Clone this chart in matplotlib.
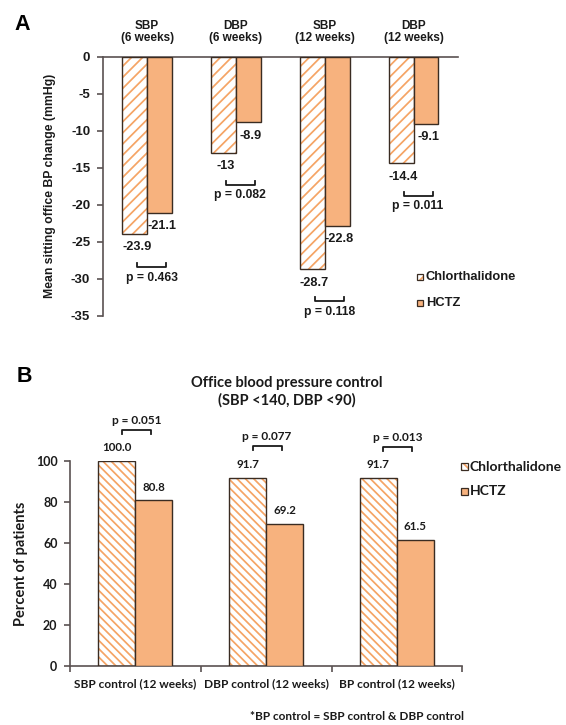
import matplotlib
matplotlib.use("Agg")
import matplotlib.pyplot as plt
import numpy as np
from matplotlib.patches import Rectangle
from matplotlib.lines import Line2D

# ---------------- data ----------------
series_names = ["Chlorthalidone", "HCTZ"]

a_categories = ["SBP\n(6 weeks)", "DBP\n(6 weeks)", "SBP\n(12 weeks)", "DBP\n(12 weeks)"]
a_chlorthalidone = [-23.9, -13, -28.7, -14.4]
a_hctz = [-21.1, -8.9, -22.8, -9.1]
a_pvalues = ["p = 0.463", "p = 0.082", "p = 0.118", "p = 0.011"]
a_yticks = [0, -5, -10, -15, -20, -25, -30, -35]
a_ylabel = "Mean sitting office BP change (mmHg)"

b_categories = ["SBP control (12 weeks)", "DBP control (12 weeks)", "BP control (12 weeks)"]
b_chlorthalidone = [100.0, 91.7, 91.7]
b_hctz = [80.8, 69.2, 61.5]
b_pvalues = ["p = 0.051", "p = 0.077", "p = 0.013"]
b_yticks = [0, 20, 40, 60, 80, 100]
b_ylabel = "Percent of patients"
b_title = "Office blood pressure control\n(SBP <140, DBP <90)"
b_footnote = "*BP control = SBP control & DBP control"

# layout-only values (bracket heights in data units)
a_bracket_y = [-28.4, -17.3, -33.0, -18.8]
b_bracket_y = [114.9, 107.3, 106.8]

# ---------------- style ----------------
W, H = 566, 725
DPI = 100
plt.rcParams["axes.unicode_minus"] = False
plt.rcParams["hatch.linewidth"] = 1.25
FA = ["Liberation Sans", "DejaVu Sans"]
FB = ["Lato", "DejaVu Sans"]
TXT = "#1a1a1a"
EDGE = "#3a2c22"
SPINE = "#5a5252"
ORANGE = "#F7B27E"
HATCH = "#F5A465"

fig = plt.figure(figsize=(W / DPI, H / DPI), dpi=DPI)
fig.patch.set_facecolor("white")


def fx(x):
    return x / W


def fy(y):
    return 1 - y / H


def hatched_bars(ax, x, vals, width, hatch):
    ax.bar(x, vals, width, color="white", edgecolor=HATCH, hatch=hatch,
           linewidth=0, zorder=2)
    ax.bar(x, vals, width, color="none", edgecolor=EDGE, linewidth=1.0, zorder=3)


def solid_bars(ax, x, vals, width):
    ax.bar(x, vals, width, color=ORANGE, edgecolor=EDGE, linewidth=1.0, zorder=3)


# ================= Panel A =================
A_L, A_R = 102.7, 458
axA = fig.add_axes([fx(A_L), fy(316), fx(A_R) - fx(A_L), fy(56.5) - fy(316)])
xa = np.arange(len(a_categories))
bw = 0.28
hatched_bars(axA, xa - bw / 2, a_chlorthalidone, bw, "///")
solid_bars(axA, xa + bw / 2, a_hctz, bw)
axA.set_xlim(-0.5, len(a_categories) - 0.5)
axA.set_ylim(-35, 0)
for s in ["right", "bottom"]:
    axA.spines[s].set_visible(False)
for s in ["left", "top"]:
    axA.spines[s].set_color(SPINE)
    axA.spines[s].set_linewidth(1.2)
axA.set_yticks(a_yticks)
axA.set_yticklabels([str(t) for t in a_yticks], fontfamily=FA, fontweight="bold",
                    fontsize=9.5, color=TXT)
axA.tick_params(axis="y", direction="out", length=4, width=1.2, color=SPINE, pad=5)
axA.xaxis.tick_top()
axA.set_xticks(xa)
axA.set_xticklabels(a_categories, fontfamily=FA, fontweight="bold", fontsize=8.5,
                    color=TXT, linespacing=1.05)
axA.tick_params(axis="x", length=0, pad=9)
axA.set_ylabel(a_ylabel, fontfamily=FA, fontweight="bold", fontsize=8.8, color=TXT)
axA.yaxis.set_label_coords((56 - A_L) / (A_R - A_L), 0.5)

for i in range(len(a_categories)):
    for xv, v in ((xa[i] - bw / 2, a_chlorthalidone[i]), (xa[i] + bw / 2, a_hctz[i])):
        axA.annotate(f"{v:g}", (xv, v), xytext=(2, -13.5), textcoords="offset pixels",
                     ha="center", va="center", fontfamily=FA, fontweight="bold",
                     fontsize=9.2, color=TXT, annotation_clip=False)
    x0, x1 = xa[i] - 0.113, xa[i] + 0.214
    yb = a_bracket_y[i]
    tk = 0.55
    axA.add_line(Line2D([x0, x0, x1, x1], [yb + tk, yb, yb, yb + tk], color=TXT,
                        lw=1.3, clip_on=False))
    axA.annotate(a_pvalues[i], ((x0 + x1) / 2, yb), xytext=(0, -10.5),
                 textcoords="offset pixels", ha="center", va="center", fontfamily=FA,
                 fontweight="bold", fontsize=8.7, color=TXT, annotation_clip=False)

# legend A
for k, (name, yc) in enumerate(zip(series_names, [277, 302.5])):
    if k == 0:
        r = Rectangle((fx(417), fy(yc + 3)), fx(6), 6 / H, transform=fig.transFigure,
                      facecolor="white", edgecolor=HATCH, hatch="///", linewidth=0)
        fig.add_artist(r)
    r = Rectangle((fx(417), fy(yc + 3)), fx(6), 6 / H, transform=fig.transFigure,
                  facecolor=("none" if k == 0 else ORANGE), edgecolor=EDGE, linewidth=0.9)
    fig.add_artist(r)
    fig.text(fx(426), fy(yc), name, ha="left", va="center", fontfamily=FA,
             fontweight="bold", fontsize=9.3, color=TXT)

fig.text(fx(14), fy(30), "A", ha="left", va="baseline", fontfamily=FA,
         fontweight="bold", fontsize=15.5, color="black")

# ================= Panel B =================
B_L, B_R = 70, 462.3
axB = fig.add_axes([fx(B_L), fy(666), fx(B_R) - fx(B_L), fy(460.7) - fy(666)])
xb = np.arange(len(b_categories))
bwb = 0.283
hatched_bars(axB, xb - bwb / 2, b_chlorthalidone, bwb, "\\\\\\\\")
solid_bars(axB, xb + bwb / 2, b_hctz, bwb)
axB.set_xlim(-0.5, len(b_categories) - 0.5)
axB.set_ylim(0, 100)
for s in ["right", "top"]:
    axB.spines[s].set_visible(False)
for s in ["left", "bottom"]:
    axB.spines[s].set_color(SPINE)
    axB.spines[s].set_linewidth(1.2)
axB.set_yticks(b_yticks)
axB.set_yticklabels([str(t) for t in b_yticks], fontfamily=FB, fontweight="bold",
                    fontsize=9, color=TXT)
axB.tick_params(axis="y", direction="out", length=4, width=1.2, color=SPINE, pad=5)
axB.set_xticks(xb)
axB.set_xticklabels(b_categories, fontfamily=FB, fontweight="bold", fontsize=8.6,
                    color=TXT)
axB.set_xticks(np.arange(-0.5, len(b_categories)), minor=True)
axB.tick_params(axis="x", which="major", length=0, pad=9)
axB.tick_params(axis="x", which="minor", direction="out", length=4, width=1.2,
                color=SPINE)
axB.set_ylabel(b_ylabel, fontfamily=FB, fontweight="bold", fontsize=10.5, color=TXT)
axB.yaxis.set_label_coords((28 - B_L) / (B_R - B_L), 0.5)

for i in range(len(b_categories)):
    for xv, v in ((xb[i] - bwb / 2, b_chlorthalidone[i]), (xb[i] + bwb / 2, b_hctz[i])):
        axB.annotate(f"{v:.1f}", (xv, v), xytext=(0, 13), textcoords="offset pixels",
                     ha="center", va="center", fontfamily=FB, fontweight="bold",
                     fontsize=8.3, color=TXT, annotation_clip=False)
    x0, x1 = xb[i] - 0.104, xb[i] + 0.118
    yb = b_bracket_y[i]
    tk = 2.0
    axB.add_line(Line2D([x0, x0, x1, x1], [yb - tk, yb, yb, yb - tk], color=TXT,
                        lw=1.3, clip_on=False))
    axB.annotate(b_pvalues[i], ((x0 + x1) / 2, yb), xytext=(0, 9.7),
                 textcoords="offset pixels", ha="center", va="center", fontfamily=FB,
                 fontweight="bold", fontsize=8.6, color=TXT, annotation_clip=False)

# legend B
for k, (name, yc) in enumerate(zip(series_names, [466.7, 491])):
    if k == 0:
        r = Rectangle((fx(461), fy(yc + 3.5)), fx(7), 7 / H, transform=fig.transFigure,
                      facecolor="white", edgecolor=HATCH, hatch="\\\\\\\\", linewidth=0)
        fig.add_artist(r)
    r = Rectangle((fx(461), fy(yc + 3.5)), fx(7), 7 / H, transform=fig.transFigure,
                  facecolor=("none" if k == 0 else ORANGE), edgecolor=EDGE, linewidth=0.9)
    fig.add_artist(r)
    fig.text(fx(470), fy(yc), name, ha="left", va="center", fontfamily=FB,
             fontweight="bold", fontsize=10, color=TXT)

fig.text(fx(287), fy(392), b_title, ha="center", va="center", fontfamily=FB,
         fontweight="bold", fontsize=10.5, color=TXT, linespacing=1.3)
fig.text(fx(463.5), fy(716.7), b_footnote, ha="right", va="center", fontfamily=FB,
         fontweight="bold", fontsize=8.5, color=TXT)
fig.text(fx(17), fy(382), "B", ha="left", va="baseline", fontfamily=FA,
         fontweight="bold", fontsize=15.5, color="black")

fig.savefig("out.png", dpi=DPI, facecolor="white")
